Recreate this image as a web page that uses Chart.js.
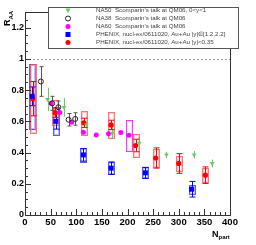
<!DOCTYPE html>
<html>
<head>
<meta charset="utf-8">
<script src="https://cdn.jsdelivr.net/npm/chart.js@4.4.1/dist/chart.umd.min.js"></script>
<style>
html, body { margin:0; padding:0; background:#fff; }
canvas { display:block; }
</style>
</head>
<body>
<canvas id="raaChart" width="256" height="245"></canvas>
<script>
// ===============================
// DATA
// ===============================

// NA50, 0<y<1
const na50Npart = [44, 76, 120, 170, 223, 276, 330, 365];
const na50Raa   = [0.74, 0.69, 0.577, 0.525, 0.46, 0.385, 0.385, 0.33];
const na50Err   = [0.075, 0.06, 0.03, 0.04, 0.03, 0.02, 0.025, 0.025];

// NA38
const na38Npart = [31, 53, 65, 85, 98];
const na38Raa   = [0.855, 0.715, 0.69, 0.61, 0.615];
const na38Err   = [0.095, 0.045, 0.04, 0.04, 0.04];

// NA60
const na60Npart = [51, 68, 91, 114, 139, 163, 187, 203];
const na60Raa   = [0.716, 0.656, 0.594, 0.53, 0.513, 0.52, 0.528, 0.51];
const na60Sys   = [0, 0, 0, 0, 0, 0, 0, 0.1];

// PHENIX, |y| in [1.2,2.2]
const phxFwdNpart = [14, 60, 114, 168, 235, 325];
const phxFwdRaa   = [0.76, 0.60, 0.385, 0.30, 0.27, 0.165];
const phxFwdStat  = [0.06, 0.05, 0.04, 0.04, 0.035, 0.05];
const phxFwdSys   = [0.21, 0.09, 0.045, 0.04, 0.035, 0.03];

// PHENIX, |y|<0.35
const phxMidNpart = [15, 59, 115, 168, 216, 255, 300, 352];
const phxMidRaa   = [0.745, 0.655, 0.59, 0.577, 0.445, 0.365, 0.33, 0.255];
const phxMidStat  = [0.11, 0.03, 0.03, 0.03, 0.04, 0.065, 0.063, 0.053];
const phxMidSys   = [0.22, 0.08, 0.075, 0.085, 0.075, 0.06, 0.05, 0.043];

// axis ticks
const xMajorTicks = [0, 50, 100, 150, 200, 250, 300, 350, 400];
const yMajorTicks = [0, 0.2, 0.4, 0.6, 0.8, 1, 1.2];
const yTickLabels = ["0", "0.2", "0.4", "0.6", "0.8", "1", "1.2"];

const legendLabels = [
  "NA50  Scomparin's talk at QM06, 0<y<1",
  "NA38  Scomparin's talk at QM06",
  "NA60  Scomparin's talk at QM06",
  "PHENIX, nucl-ex/0611020, Au+Au |y|\u2208[1.2,2.2]",
  "PHENIX, nucl-ex/0611020, Au+Au |y|<0.35"
];

const GREEN = "#66cc66";
const GREY = "#555555";
const MAGENTA = "#ff00ff";
const BLUE = "#0000ff";
const RED = "#ff0000";

function toPoints(xs, ys){
  return xs.map((x, i) => ({ x: x, y: ys[i] }));
}

// ===============================
// DRAW HELPERS
// ===============================

function drawErrors(chart, xs, ys, errs, color, cap){
  const ctx = chart.ctx;
  const sx = chart.scales.x, sy = chart.scales.y;
  ctx.save();
  ctx.strokeStyle = color;
  ctx.lineWidth = 1;
  xs.forEach((x, i) => {
    if(!errs[i]) return;
    const px = Math.round(sx.getPixelForValue(x)) + 0.5;
    const top = sy.getPixelForValue(ys[i] + errs[i]);
    const bot = sy.getPixelForValue(ys[i] - errs[i]);
    ctx.beginPath();
    ctx.moveTo(px, top);
    ctx.lineTo(px, bot);
    if(cap){
      ctx.moveTo(px - cap, top); ctx.lineTo(px + cap, top);
      ctx.moveTo(px - cap, bot); ctx.lineTo(px + cap, bot);
    }
    ctx.stroke();
  });
  ctx.restore();
}

function drawBoxes(chart, xs, ys, sys, color, inner, half){
  const ctx = chart.ctx;
  const sx = chart.scales.x, sy = chart.scales.y;
  ctx.save();
  ctx.lineWidth = 1;
  xs.forEach((x, i) => {
    if(!sys[i]) return;
    const px = Math.round(sx.getPixelForValue(x)) + 0.5;
    const top = Math.round(sy.getPixelForValue(ys[i] + sys[i])) + 0.5;
    const bot = Math.round(sy.getPixelForValue(ys[i] - sys[i])) + 0.5;
    ctx.strokeStyle = color;
    ctx.strokeRect(px - half, top, 2 * half, bot - top);
    ctx.strokeStyle = inner;
    ctx.strokeRect(px - half + 1, top + 1, 2 * half - 2, bot - top - 2);
  });
  ctx.restore();
}

function drawMarker(ctx, style, x, y, color){
  ctx.save();
  ctx.fillStyle = color;
  ctx.strokeStyle = color;
  ctx.lineWidth = 1;
  ctx.beginPath();
  if(style === "tri"){
    ctx.moveTo(x - 2.5, y - 2); ctx.lineTo(x + 2.5, y - 2); ctx.lineTo(x, y + 2.5);
    ctx.closePath(); ctx.fill();
  } else if(style === "open"){
    ctx.arc(x, y, 2.5, 0, Math.PI * 2); ctx.stroke();
  } else if(style === "sq"){
    ctx.rect(x - 2.5, y - 2.5, 5, 5); ctx.fill();
  } else {
    ctx.arc(x, y, 2.5, 0, Math.PI * 2); ctx.fill();
  }
  ctx.restore();
}

// frame, reference line, error bars and boxes under the markers
const underlayPlugin = {
  id: "underlay",
  beforeDatasetsDraw(chart){
    const ctx = chart.ctx;
    const a = chart.chartArea;
    const sy = chart.scales.y;

    // R=1 reference line
    ctx.save();
    ctx.strokeStyle = "#999";
    ctx.setLineDash([2, 2]);
    const y1 = Math.round(sy.getPixelForValue(1)) + 0.5;
    ctx.beginPath(); ctx.moveTo(a.left, y1); ctx.lineTo(a.right, y1); ctx.stroke();
    ctx.restore();

    drawBoxes(chart, phxFwdNpart, phxFwdRaa, phxFwdSys, "rgba(50,50,255,0.8)", "rgba(120,120,255,0.5)", 3);
    drawBoxes(chart, phxMidNpart, phxMidRaa, phxMidSys, "rgba(255,70,70,0.75)", "rgba(255,150,150,0.5)", 3);
    drawBoxes(chart, na60Npart, na60Raa, na60Sys, "rgba(255,0,255,0.8)", "rgba(255,150,255,0.3)", 3);

    drawErrors(chart, na50Npart, na50Raa, na50Err, GREEN, 0);
    drawErrors(chart, na38Npart, na38Raa, na38Err, GREY, 2);
    drawErrors(chart, phxFwdNpart, phxFwdRaa, phxFwdStat, BLUE, 3);
    drawErrors(chart, phxMidNpart, phxMidRaa, phxMidStat, RED, 3);
  }
};

// axes, ticks, titles and legend on top
const axesPlugin = {
  id: "axes",
  afterDraw(chart){
    const ctx = chart.ctx;
    const a = chart.chartArea;
    const sx = chart.scales.x, sy = chart.scales.y;

    ctx.save();
    ctx.strokeStyle = "#333";
    ctx.lineWidth = 1;
    ctx.strokeRect(Math.round(a.left) + 0.5, Math.round(a.top) + 0.5,
                   Math.round(a.right - a.left), Math.round(a.bottom - a.top));

    // x ticks
    ctx.beginPath();
    for(let v = 0; v <= 400; v += 10){
      const px = Math.round(sx.getPixelForValue(v)) + 0.5;
      const len = (v % 50 === 0) ? 6 : 3;
      ctx.moveTo(px, a.bottom); ctx.lineTo(px, a.bottom - len);
    }
    // y ticks
    for(let k = 0; k <= 26; k++){
      const v = k * 0.05;
      const py = Math.round(sy.getPixelForValue(v)) + 0.5;
      const len = (k % 4 === 0) ? 6 : 3;
      ctx.moveTo(a.left, py); ctx.lineTo(a.left + len, py);
    }
    ctx.stroke();

    // tick labels
    ctx.fillStyle = "#000";
    ctx.font = "bold 9.5px 'Liberation Sans', Arial, sans-serif";
    ctx.textAlign = "center";
    ctx.textBaseline = "alphabetic";
    xMajorTicks.forEach(v => {
      ctx.fillText(String(v), sx.getPixelForValue(v), a.bottom + 10);
    });
    ctx.font = "bold 9px 'Liberation Sans', Arial, sans-serif";
    ctx.textAlign = "right";
    ctx.textBaseline = "middle";
    yMajorTicks.forEach((v, i) => {
      ctx.fillText(yTickLabels[i], a.left - 1, sy.getPixelForValue(v));
    });

    // x title
    ctx.textAlign = "left";
    ctx.textBaseline = "alphabetic";
    ctx.font = "bold 9px 'Liberation Sans', Arial, sans-serif";
    ctx.fillText("N", 212, 237);
    const nw = ctx.measureText("N").width;
    ctx.font = "bold 6px 'Liberation Sans', Arial, sans-serif";
    ctx.fillText("part", 212 + nw, 239);

    // y title
    ctx.translate(10, 26);
    ctx.rotate(-Math.PI / 2);
    ctx.font = "bold 9px 'Liberation Sans', Arial, sans-serif";
    ctx.fillText("R", 0, 0);
    const rw = ctx.measureText("R").width;
    ctx.font = "bold 6px 'Liberation Sans', Arial, sans-serif";
    ctx.fillText("AA", rw, 3);
    ctx.restore();

    // legend
    ctx.save();
    ctx.fillStyle = "#fff";
    ctx.fillRect(48, 7, 190, 41);
    ctx.strokeStyle = "#555";
    ctx.lineWidth = 1;
    ctx.strokeRect(48.5, 7.5, 190, 41);
    const rows = [10.5, 18.5, 26.5, 34.5, 42.5];
    const styles = ["tri", "open", "dot", "sq", "dot"];
    const colors = [GREEN, "#222", MAGENTA, BLUE, RED];
    ctx.font = "6.2px 'Liberation Sans', Arial, sans-serif";
    ctx.textBaseline = "middle";
    ctx.textAlign = "left";
    rows.forEach((ry, i) => {
      drawMarker(ctx, styles[i], 68, ry, colors[i]);
      ctx.fillStyle = "#444";
      ctx.fillText(legendLabels[i], 96, ry);
    });
    ctx.restore();
  }
};

// ===============================
// CHART
// ===============================

new Chart(document.getElementById("raaChart"), {
  type: "scatter",
  data: {
    datasets: [
      {
        label: legendLabels[0],
        data: toPoints(na50Npart, na50Raa),
        pointStyle: "triangle",
        rotation: 180,
        pointRadius: 2.7,
        backgroundColor: GREEN,
        borderColor: GREEN,
        borderWidth: 0
      },
      {
        label: legendLabels[1],
        data: toPoints(na38Npart, na38Raa),
        pointStyle: "circle",
        pointRadius: 2.5,
        backgroundColor: "transparent",
        borderColor: "#222",
        borderWidth: 1
      },
      {
        label: legendLabels[2],
        data: toPoints(na60Npart, na60Raa),
        pointStyle: "circle",
        pointRadius: 2.5,
        backgroundColor: MAGENTA,
        borderColor: MAGENTA,
        borderWidth: 0
      },
      {
        label: legendLabels[3],
        data: toPoints(phxFwdNpart, phxFwdRaa),
        pointStyle: "rect",
        pointRadius: 3.5,
        backgroundColor: BLUE,
        borderColor: BLUE,
        borderWidth: 0
      },
      {
        label: legendLabels[4],
        data: toPoints(phxMidNpart, phxMidRaa),
        pointStyle: "circle",
        pointRadius: 2.6,
        backgroundColor: RED,
        borderColor: RED,
        borderWidth: 0
      }
    ]
  },
  options: {
    responsive: false,
    animation: false,
    layout: { padding: { left: 25, top: 12, right: 26, bottom: 30 } },
    plugins: {
      legend: { display: false },
      tooltip: { enabled: false }
    },
    scales: {
      x: { type: "linear", min: 0, max: 400, display: false },
      y: { type: "linear", min: 0, max: 1.3, display: false }
    }
  },
  plugins: [underlayPlugin, axesPlugin]
});
</script>
</body>
</html>
